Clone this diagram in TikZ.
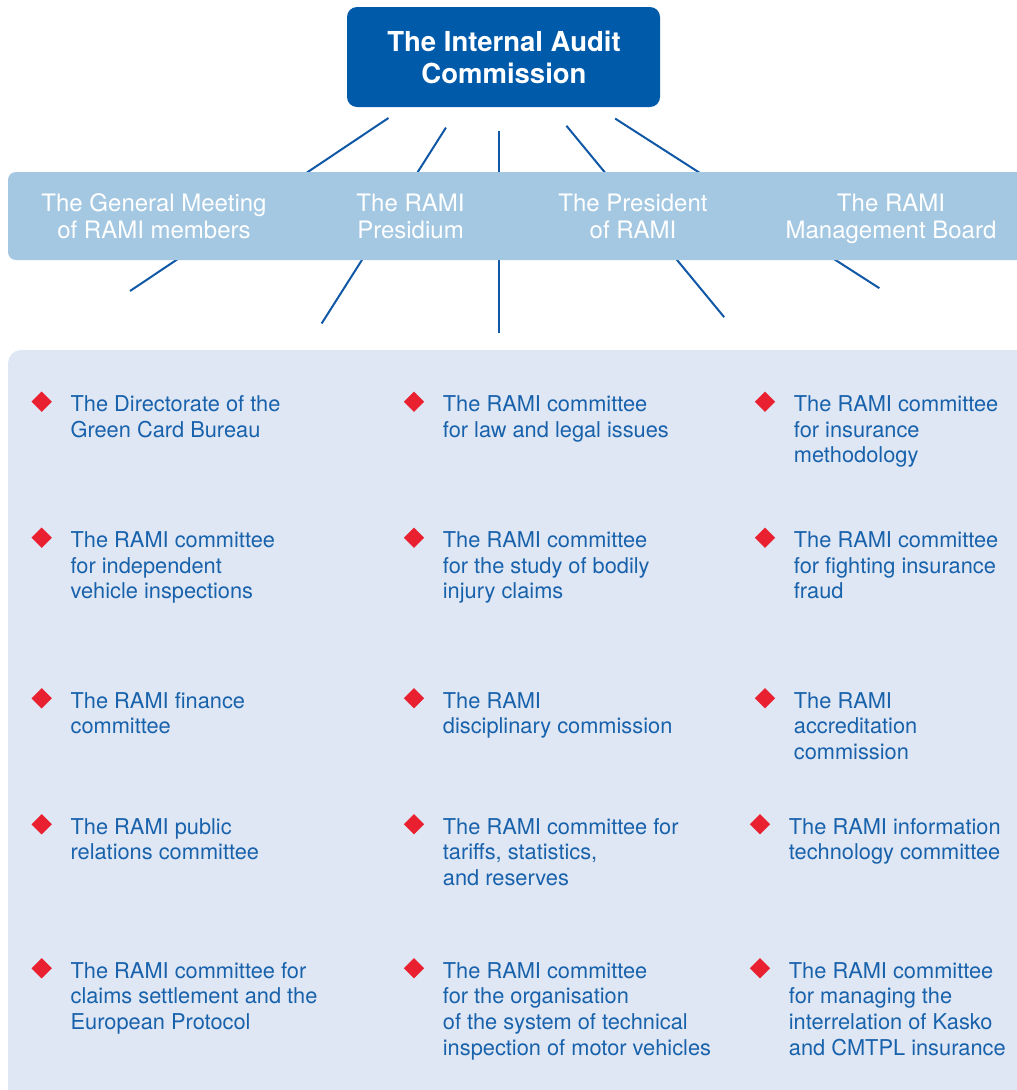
\documentclass[tikz,border=0pt]{standalone}
\usepackage{fontspec}
\setmainfont{TeX Gyre Heros}
\usetikzlibrary{shapes.geometric}

\definecolor{auditblue}{RGB}{0,90,170}
\definecolor{bandblue}{RGB}{164,200,226}
\definecolor{panelblue}{RGB}{224,231,244}
\definecolor{linkblue}{RGB}{16,88,166}
\definecolor{bulletred}{RGB}{232,32,48}
\definecolor{itemblue}{RGB}{24,98,172}

% fixed height above the first baseline, so north anchors sit on it
\newcommand\firstline[1]{\rule{0pt}{#1}}

\tikzset{
	topbox/.style={text=white, align=center, inner sep=0pt, anchor=north,
		font=\fontsize{27.5}{31.6}\selectfont\bfseries},
	bandtext/.style={text=white, align=center, inner sep=0pt, anchor=north,
		font=\fontsize{24}{26.5}\selectfont},
	bullet/.style={diamond, fill=bulletred, inner sep=0pt, aspect=1,
		minimum width=20.5pt, minimum height=20.5pt},
	item/.style={text=itemblue, align=left, inner sep=0pt, anchor=north west,
		font=\fontsize{21.8}{25.7}\selectfont},
	link/.style={draw=linkblue, line width=2pt}
}

\begin{document}
\begin{tikzpicture}[x=1pt, y=-1pt]
			\useasboundingbox (0,0) rectangle (1017,1090);
			\clip (0,0) rectangle (1017,1090);
			
			%the fan of links, band is drawn over its middle
			\coordinate (hub) at (499,44);
			\foreach \ang/\ra/\rb in {146.2/133/444, 122.4/99/331, 90/87/289, 50.5/106/354, 32.7/138/452}
				\draw[link, shift={(hub)}] (\ang:\ra) -- (\ang:\rb);
			
			%top box
			\fill[auditblue, rounded corners=10pt] (347,7) rectangle (660,107);
			\node[topbox] (audit) at (504,30.7) {\firstline{21pt}The Internal Audit\\Commission};
			
			%band of governing bodies
			\fill[bandblue, rounded corners=8pt] (8,172) rectangle (1040,260);
			\node[bandtext] (meeting) at (154,193.7) {\firstline{18pt}The General Meeting\\of RAMI members};
			\node[bandtext] (presidium) at (410.5,193.7) {\firstline{18pt}The RAMI\\Presidium};
			\node[bandtext] (president) at (633,193.7) {\firstline{18pt}The President\\of RAMI};
			\node[bandtext] (board) at (891,193.7) {\firstline{18pt}The RAMI\\Management Board};
			
			%panel of committees
			\fill[panelblue, rounded corners=13pt] (8,350) rectangle (1040,1110);
			
			\def\ra{401.7} \def\rb{537.7} \def\rc{698.3} \def\rd{824.3} \def\re{968.3}
			\foreach \nm/\x/\y/\txt in {
				greencard/41.7/\ra/{The Directorate of the\\Green Card Bureau},
				inspect/41.7/\rb/{The RAMI committee\\for independent\\vehicle inspections},
				finance/41.7/\rc/{The RAMI finance\\committee},
				public/41.7/\rd/{The RAMI public\\relations committee},
				claims/41.7/\re/{The RAMI committee for\\claims settlement and the\\European Protocol},
				law/414/\ra/{The RAMI committee\\for law and legal issues},
				injury/414/\rb/{The RAMI committee\\for the study of bodily\\injury claims},
				discipl/414/\rc/{The RAMI\\disciplinary commission},
				tariffs/414/\rd/{The RAMI committee for\\tariffs, statistics,\\and reserves},
				techinsp/414/\re/{The RAMI committee\\for the organisation\\of the system of technical\\inspection of motor vehicles},
				method/765/\ra/{The RAMI committee\\for insurance\\methodology},
				fraud/765/\rb/{The RAMI committee\\for fighting insurance\\fraud},
				accred/765/\rc/{The RAMI\\accreditation\\commission},
				infotech/760/\rd/{The RAMI information\\technology committee},
				kasko/760/\re/{The RAMI committee\\for managing the\\interrelation of Kasko\\and CMTPL insurance}}
			{
				\node[bullet] (\nm-b) at (\x,\y) {};
				% 17pt above the first baseline, which is 9.5pt under the bullet
				\node[item] (\nm) at ([xshift=28.7pt, yshift=7.5pt]\nm-b.center) {\firstline{17pt}\txt};
			}
\end{tikzpicture}
\end{document}
